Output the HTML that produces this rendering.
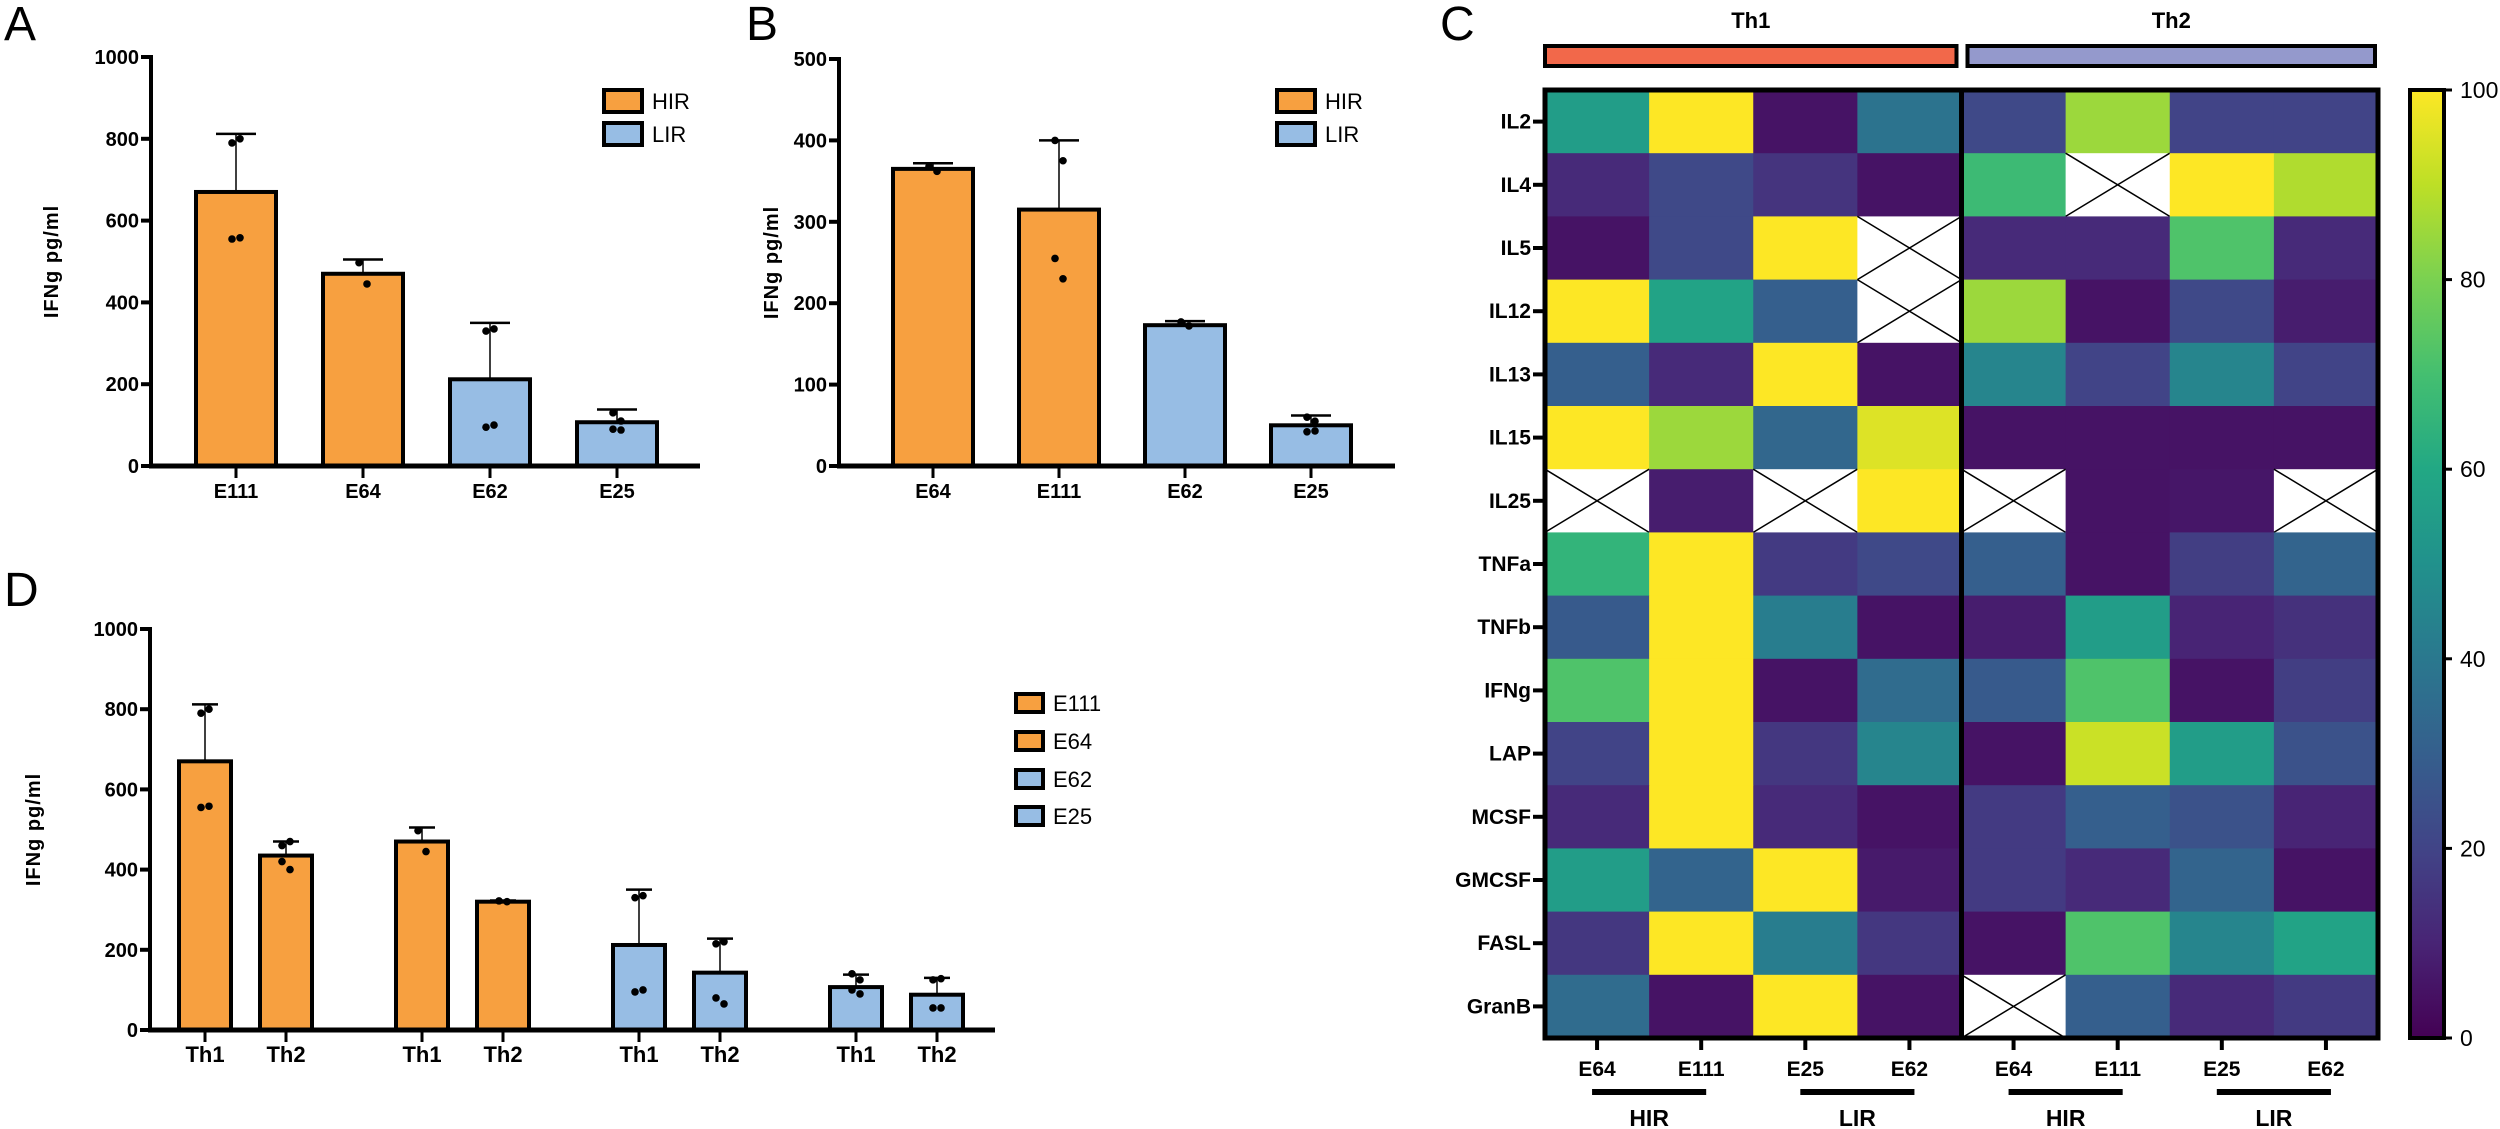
<!DOCTYPE html>
<html><head><meta charset="utf-8"><style>
html,body{margin:0;padding:0;background:#fff;}
svg{display:block;font-family:"Liberation Sans",sans-serif;}
</style></head><body>
<svg id="fig" width="2500" height="1129" viewBox="0 0 2500 1129" xmlns="http://www.w3.org/2000/svg">
<text x="4" y="40" font-size="48">A</text>
<text x="746" y="40" font-size="48">B</text>
<text x="1440" y="40" font-size="48">C</text>
<text x="4" y="606" font-size="48">D</text>
<g id="pa"></g>
<g id="pb"></g>
<g id="pd"></g>
<g id="pc"></g>
</svg>
<script>
// Panel A data
const aCats = ["E111","E64","E62","E25"];
const aVals = [670,470,212,107];
const aErr = [812,505,350,138];
const aDots = [[790,800,555,558],[497,445],[330,335,95,100],[130,110,90,88]];
const aGroup = ["HIR","HIR","LIR","LIR"];
const aTicks = [0,200,400,600,800,1000];
// Panel B data
const bCats = ["E64","E111","E62","E25"];
const bVals = [365,315,173,50];
const bErr = [372,400,178,62];
const bDots = [[368,362],[400,375,255,230],[177,172],[60,55,42,43]];
const bGroup = ["HIR","HIR","LIR","LIR"];
const bTicks = [0,100,200,300,400,500];
// Panel D data
const dCats = ["Th1","Th2","Th1","Th2","Th1","Th2","Th1","Th2"];
const dVals = [670,435,470,320,212,143,107,88];
const dErr = [812,470,505,323,350,228,138,130];
const dDots = [[790,800,555,558],[460,470,420,400],[497,445],[322,320],[330,335,95,100],[215,220,80,65],[140,125,100,90],[125,128,55,55]];
const dGroup = ["HIR","HIR","HIR","HIR","LIR","LIR","LIR","LIR"];
const dTicks = [0,200,400,600,800,1000];
const dLegend = ["E111","E64","E62","E25"];
const dLegendGroup = ["HIR","HIR","LIR","LIR"];
// Panel C data
const cRows = ["IL2","IL4","IL5","IL12","IL13","IL15","IL25","TNFa","TNFb","IFNg","LAP","MCSF","GMCSF","FASL","GranB"];
const cCols = ["E64","E111","E25","E62","E64","E111","E25","E62"];
const cVals = [
 [55,100,5,38,22,85,20,20],
 [12,22,15,5,68,null,100,88],
 [5,22,100,null,12,12,72,12],
 [100,58,30,null,85,5,22,8],
 [30,12,100,5,45,20,45,20],
 [100,85,33,95,5,5,5,5],
 [null,8,null,100,null,5,6,null],
 [65,100,17,22,30,5,18,32],
 [28,100,42,5,8,55,10,14],
 [72,100,5,35,28,72,5,18],
 [20,100,16,45,5,92,55,25],
 [12,100,12,5,17,30,25,10],
 [55,32,100,7,17,12,32,5],
 [16,100,42,16,5,72,45,58],
 [35,5,100,5,null,30,12,17]
];
const cTicks = [0,20,40,60,80,100];
const cGroups = ["Th1","Th2"];
const cSub = ["HIR","LIR","HIR","LIR"];

const NS="http://www.w3.org/2000/svg";
const COL={HIR:"#f7a040",LIR:"#97bde4"};
function mk(p,t,a){const e=document.createElementNS(NS,t);for(const k in a)e.setAttribute(k,a[k]);p.appendChild(e);return e;}

function barPanel(g,o,cats,vals,err,dots,grp,ticks,ymax){
  const y=v=>o.y0-(v/ymax)*(o.y0-o.y1);
  const x=i=>o.c0+i*o.step+(o.gap?Math.floor(i/2)*o.gap:0);
  const ax=mk(g,"line",{x1:o.ax,y1:o.y1-2,x2:o.ax,y2:o.y0+2,stroke:"#000","stroke-width":4});
  
  
  ticks.forEach(t=>{
    const tl=mk(g,"line",{x1:o.ax-10,y1:y(t),x2:o.ax,y2:y(t),stroke:"#000","stroke-width":4});
    
    
    const tx=mk(g,"text",{x:o.ax-12,y:y(t)+7,"text-anchor":"end","font-size":20,"font-weight":"bold"});
    tx.textContent=t;
    
    
  });
  const yl=mk(g,"text",{x:0,y:0,transform:`translate(${o.ylx},${(o.y0+o.y1)/2}) rotate(-90)`,"text-anchor":"middle","font-size":20,"font-weight":"bold","letter-spacing":"1"});
  yl.textContent="IFNg pg/ml";
  
  
  cats.forEach((c,i)=>{
    const cx=x(i),w=o.bw;
    const eb=mk(g,"line",{x1:cx,y1:y(err[i]),x2:cx,y2:y(vals[i]),stroke:"#000","stroke-width":1.5});
    
    
    const ec=mk(g,"line",{x1:cx-w*0.25,y1:y(err[i]),x2:cx+w*0.25,y2:y(err[i]),stroke:"#000","stroke-width":2.5});
    
    
    const r=mk(g,"rect",{x:cx-w/2,y:y(vals[i]),width:w,height:o.y0-y(vals[i]),fill:COL[grp[i]],stroke:"#000","stroke-width":4});
    
    
    dots[i].forEach((d,j)=>{
      const dc=mk(g,"circle",{cx:cx+(j%2?4:-4),cy:y(d),r:3.8,fill:"#000"});
      
      
    });
    const xt=mk(g,"line",{x1:cx,y1:o.y0,x2:cx,y2:o.y0+12,stroke:"#000","stroke-width":3});
    
    
    const lb=mk(g,"text",{x:cx,y:o.y0+32,"text-anchor":"middle","font-size":o.lfs,"font-weight":"bold"});
    lb.textContent=c;
    
    
  });
  const xa=mk(g,"line",{x1:o.ax-2,y1:o.y0,x2:o.xend,y2:o.y0,stroke:"#000","stroke-width":5});
  
  
}
function legend(g,x,ys,labels,grps,bw,bh,fs){
  labels.forEach((l,i)=>{
    const r=mk(g,"rect",{x:x,y:ys[i]-bh/2,width:bw,height:bh,fill:COL[grps[i]],stroke:"#000","stroke-width":4});
    
    
    const t=mk(g,"text",{x:x+bw+10,y:ys[i]+fs*0.36,"font-size":fs});
    t.textContent=l;
    
    
  });
}
const pa=document.getElementById("pa");
barPanel(pa,{ax:151,y0:466,y1:57,c0:236,step:127,bw:80,xend:700,ylx:58,lfs:20},aCats,aVals,aErr,aDots,aGroup,aTicks,1000);
legend(pa,604,[101,134],["HIR","LIR"],["HIR","LIR"],38,22,22);
const pb=document.getElementById("pb");
barPanel(pb,{ax:839,y0:466,y1:59,c0:933,step:126,bw:80,xend:1395,ylx:778,lfs:20},bCats,bVals,bErr,bDots,bGroup,bTicks,500);
legend(pb,1277,[101,134],["HIR","LIR"],["HIR","LIR"],38,22,22);
const pd=document.getElementById("pd");
barPanel(pd,{ax:150,y0:1030,y1:629,c0:205,step:81,gap:55,bw:52,xend:995,ylx:40,lfs:22},dCats,dVals,dErr,dDots,dGroup,dTicks,1000);
legend(pd,1016,[703,741,779,816],dLegend,dLegendGroup,27,18,22);

// viridis
const VIR=["#440154","#482475","#414487","#355f8d","#2a788e","#21918c","#22a884","#44bf70","#7ad151","#bddf26","#fde725"];
function hx(h){return [1,3,5].map(i=>parseInt(h.substr(i,2),16));}
function vir(v){const t=Math.max(0,Math.min(1,v/100))*10;const i=Math.min(9,Math.floor(t));const f=t-i;const a=hx(VIR[i]),b=hx(VIR[i+1]);return "rgb("+a.map((c,k)=>Math.round(c+(b[k]-c)*f)).join(",")+")";}

const pc=document.getElementById("pc");
const HX0=1545,HX1=2378,HY0=90,HY1=1038;
const cw=(HX1-HX0)/cCols.length, rh=(HY1-HY0)/cRows.length;
cVals.forEach((row,ri)=>{
  row.forEach((v,ci)=>{
    const x=HX0+ci*cw,y=HY0+ri*rh;
    if(v===null){
      const r=mk(pc,"rect",{x:x,y:y,width:cw,height:rh,fill:"#fff"});
      
      
      const l1=mk(pc,"path",{d:`M${x} ${y}L${x+cw} ${y+rh}M${x+cw} ${y}L${x} ${y+rh}`,stroke:"#000","stroke-width":1.5});
      
      
    } else {
      const r=mk(pc,"rect",{x:x,y:y,width:cw+0.5,height:rh+0.5,fill:vir(v)});
      
      
    }
  });
});
const fr=mk(pc,"rect",{x:HX0,y:HY0,width:HX1-HX0,height:HY1-HY0,fill:"none",stroke:"#000","stroke-width":5});


const mid=HX0+4*cw;
const dv=mk(pc,"line",{x1:mid,y1:HY0,x2:mid,y2:HY1,stroke:"#000","stroke-width":5});


cRows.forEach((r,ri)=>{
  const y=HY0+(ri+0.5)*rh;
  const tk=mk(pc,"line",{x1:HX0-12,y1:y,x2:HX0,y2:y,stroke:"#000","stroke-width":4});
  
  
  const t=mk(pc,"text",{x:HX0-14,y:y+7,"text-anchor":"end","font-size":21,"font-weight":"bold"});
  t.textContent=r;
  
  
});
cCols.forEach((c,ci)=>{
  const x=HX0+(ci+0.5)*cw;
  const tk=mk(pc,"line",{x1:x,y1:HY1,x2:x,y2:HY1+12,stroke:"#000","stroke-width":4});
  
  
  const t=mk(pc,"text",{x:x,y:HY1+38,"text-anchor":"middle","font-size":21,"font-weight":"bold"});
  t.textContent=c;
  
  
});
cSub.forEach((s,i)=>{
  const x0=HX0+(2*i+0.5)*cw-5,x1=HX0+(2*i+1.5)*cw+5;
  const l=mk(pc,"line",{x1:x0,y1:1092,x2:x1,y2:1092,stroke:"#000","stroke-width":6});
  
  
  const t=mk(pc,"text",{x:(x0+x1)/2,y:1126,"text-anchor":"middle","font-size":23,"font-weight":"bold"});
  t.textContent=s;
  
  
});
const gcols=["#f2684a","#9499cc"];
cGroups.forEach((gname,i)=>{
  const x0=HX0+i*4*cw+(i?6:0),x1=HX0+(i+1)*4*cw-(i?3:5);
  const r=mk(pc,"rect",{x:x0,y:46,width:x1-x0,height:20,fill:gcols[i],stroke:"#000","stroke-width":4});
  
  
  const t=mk(pc,"text",{x:(x0+x1)/2,y:28,"text-anchor":"middle","font-size":22,"font-weight":"bold"});
  t.textContent=gname;
  
  
});
// colorbar
const CBX=2410,CBW=34;
const defs=mk(pc,"defs",{});
const lg=mk(defs,"linearGradient",{id:"vg",x1:0,y1:1,x2:0,y2:0});
VIR.forEach((c,i)=>mk(lg,"stop",{offset:(i*10)+"%","stop-color":c}));
const cb=mk(pc,"rect",{x:CBX,y:HY0,width:CBW,height:HY1-HY0,fill:"url(#vg)",stroke:"#000","stroke-width":4});


cTicks.forEach(t=>{
  const y=HY1-(t/100)*(HY1-HY0);
  const tk=mk(pc,"line",{x1:CBX+CBW,y1:y,x2:CBX+CBW+8,y2:y,stroke:"#000","stroke-width":3});
  
  
  const tx=mk(pc,"text",{x:CBX+CBW+16,y:y+8,"font-size":23});
  tx.textContent=t;
  
  
});
</script>
</body></html>
